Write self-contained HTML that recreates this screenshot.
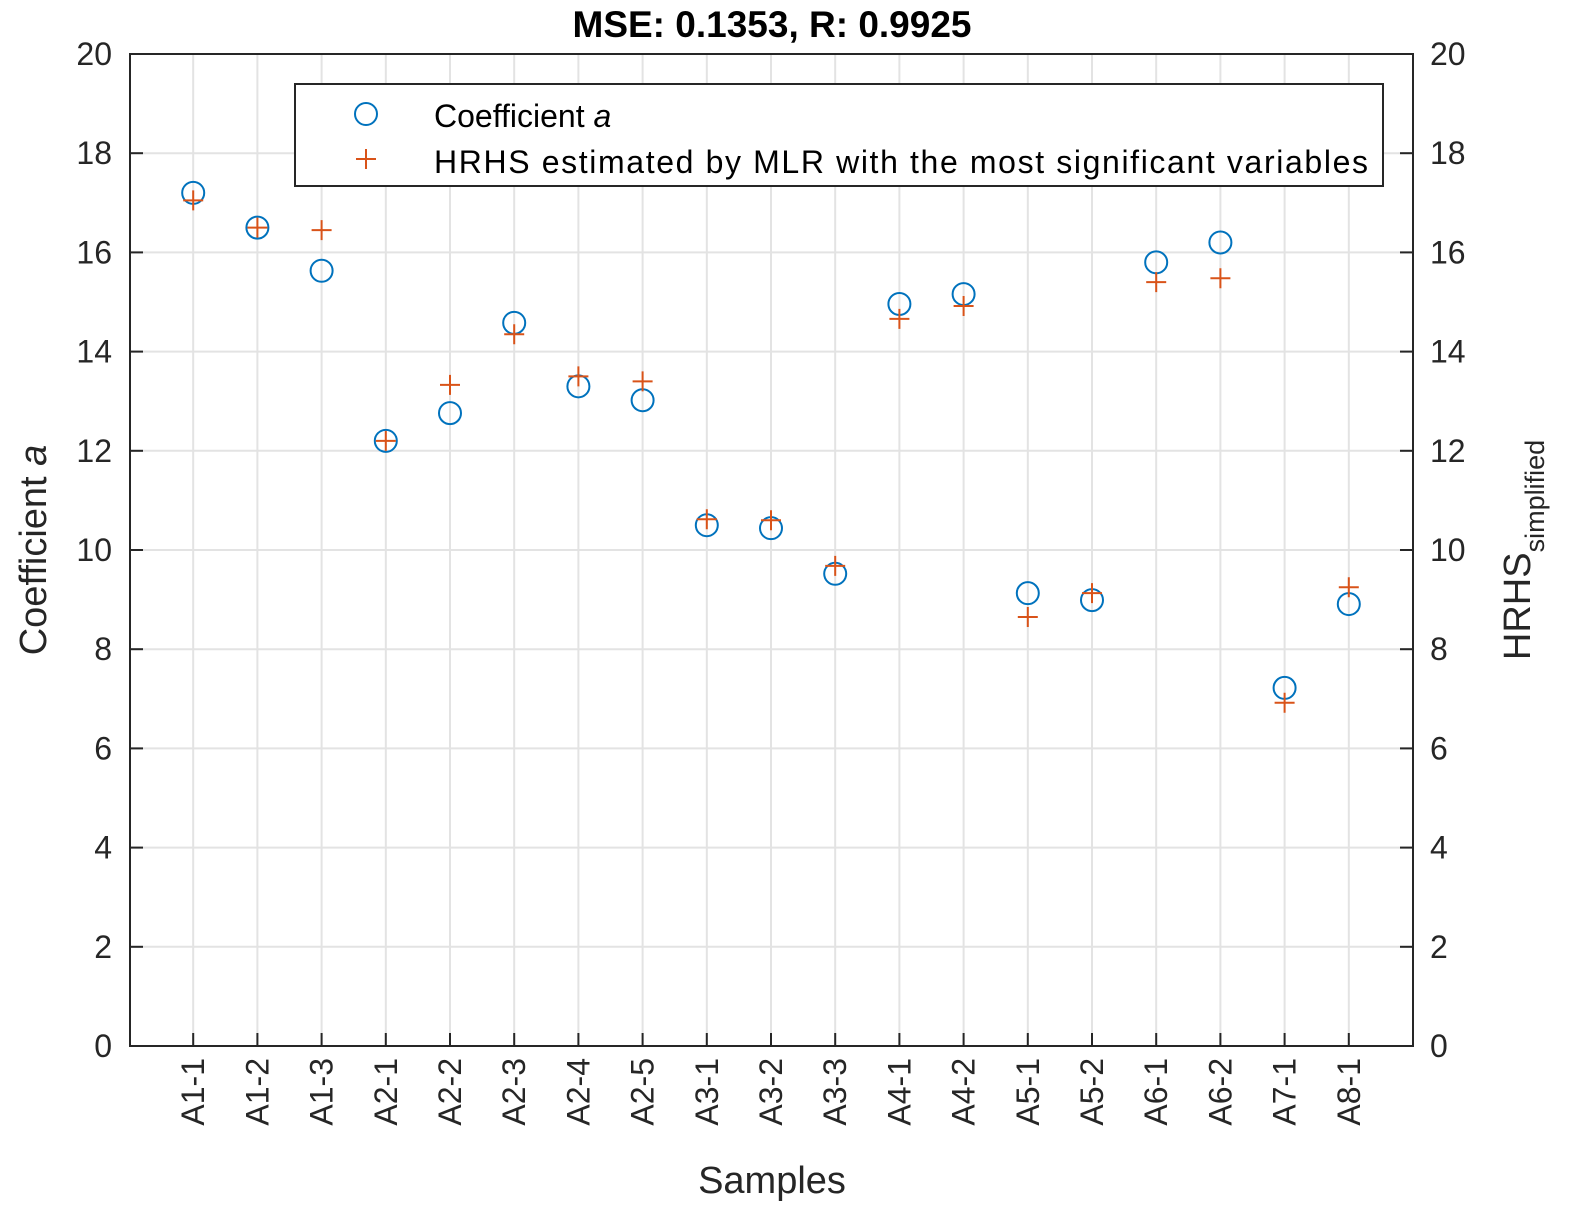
<!DOCTYPE html>
<html><head><meta charset="utf-8"><style>body{margin:0;background:#fff}svg{display:block;font-family:"Liberation Sans",Arial,sans-serif}</style></head>
<body>
<svg width="1575" height="1219" xmlns="http://www.w3.org/2000/svg">
<rect width="1575" height="1219" fill="#fff"/>
<g id="grid" stroke="#e3e3e3" stroke-width="2"></g>
<g id="pts"></g>
<rect x="130" y="54" width="1283" height="992" fill="none" stroke="#262626" stroke-width="2"/>
<g id="ticks" stroke="#262626" stroke-width="2"></g>
<g id="labels" font-size="32" fill="#262626"></g>
<text x="772" y="37" font-size="37" font-weight="bold" text-anchor="middle" fill="#000">MSE: 0.1353, R: 0.9925</text>
<text transform="translate(46,550) rotate(-90)" font-size="38" text-anchor="middle" fill="#262626">Coefficient <tspan font-style="italic">a</tspan></text>
<text transform="translate(1530,550) rotate(-90)" font-size="38" text-anchor="middle" fill="#262626">HRHS<tspan font-size="27" dy="14">simplified</tspan></text>
<text x="772" y="1193" font-size="38" text-anchor="middle" fill="#262626">Samples</text>
<rect x="295" y="84" width="1088" height="102" fill="#fff" stroke="#262626" stroke-width="2"/>
<circle cx="366" cy="114" r="11" fill="none" stroke="#0072BD" stroke-width="2"/>
<path d="M356 159h20M366 149v20" stroke="#D95319" stroke-width="2"/>
<text x="434" y="127" font-size="32" fill="#000">Coefficient <tspan font-style="italic">a</tspan></text>
<text x="434" y="173" font-size="32" fill="#000" textLength="934">HRHS estimated by MLR with the most significant variables</text>
<script>
var ns="http://www.w3.org/2000/svg";
function el(p,t,a,txt){var e=document.createElementNS(ns,t);for(var k in a)e.setAttribute(k,a[k]);if(txt!==undefined)e.textContent=String(txt);document.getElementById(p).appendChild(e);}
var names=["A1-1","A1-2","A1-3","A2-1","A2-2","A2-3","A2-4","A2-5","A3-1","A3-2","A3-3","A4-1","A4-2","A5-1","A5-2","A6-1","A6-2","A7-1","A8-1"];
var c=[17.2,16.5,15.63,12.2,12.76,14.58,13.3,13.02,10.5,10.44,9.52,14.96,15.16,9.13,8.99,15.8,16.2,7.22,8.91];
var p=[17.05,16.5,16.45,12.2,13.33,14.35,13.5,13.4,10.62,10.6,9.68,14.66,14.92,8.65,9.13,15.4,15.48,6.92,9.25];
function X(i){return 129+i*64.2;}function Y(v){return 1046-v*49.6;}
for(var v=0;v<=20;v+=2){var y=Y(v);if(v>0&&v<20)el("grid","line",{x1:130,x2:1413,y1:y,y2:y});
el("ticks","line",{x1:130,x2:143,y1:y,y2:y});el("ticks","line",{x1:1400,x2:1413,y1:y,y2:y});
el("labels","text",{x:112,y:y+11,"text-anchor":"end"},v);el("labels","text",{x:1430,y:y+11},v);}
for(var i=1;i<=19;i++){var x=X(i);el("grid","line",{x1:x,x2:x,y1:54,y2:1046});
el("ticks","line",{x1:x,x2:x,y1:1046,y2:1033});
el("labels","text",{transform:"translate("+(x+11)+",1058) rotate(-90)","text-anchor":"end"},names[i-1]);
el("pts","circle",{cx:x,cy:Y(c[i-1]),r:11,fill:"none",stroke:"#0072BD","stroke-width":2});
var py=Y(p[i-1]);el("pts","path",{d:"M"+(x-10)+" "+py+"h20M"+x+" "+(py-10)+"v20",stroke:"#D95319","stroke-width":2});}
</script>
</svg>
</body></html>
